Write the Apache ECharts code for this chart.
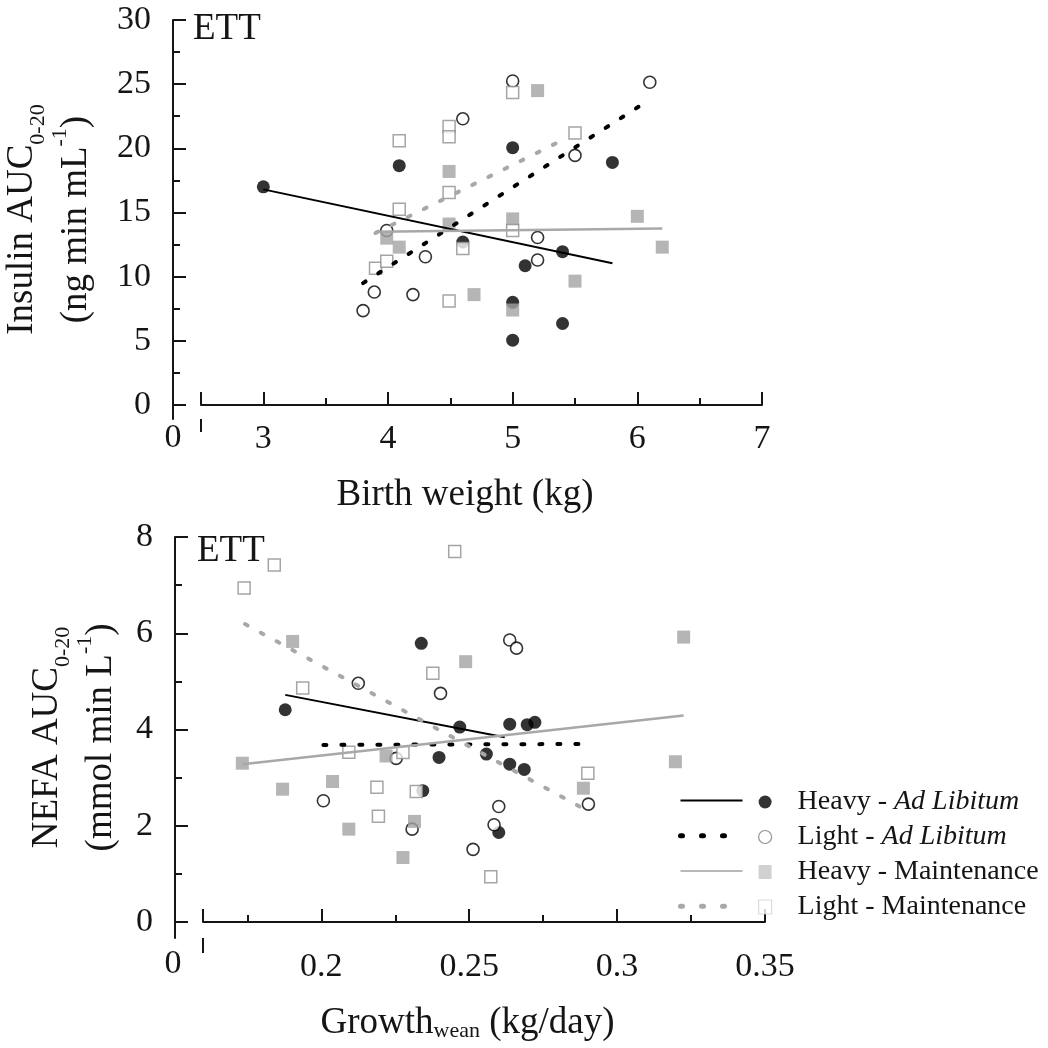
<!DOCTYPE html>
<html><head><meta charset="utf-8">
<script src="https://cdn.jsdelivr.net/npm/echarts@6/dist/echarts.min.js"></script>
<style>html,body{margin:0;padding:0;background:#fff}#c{width:1048px;height:1048px}</style>
</head><body><div id="c"></div>
<script>
// ---------- DATA ----------
const groupNames = ['Heavy - Ad Libitum', 'Light - Ad Libitum', 'Heavy - Maintenance', 'Light - Maintenance'];
const fitNames = ['Heavy - Ad Libitum fit', 'Light - Ad Libitum fit', 'Heavy - Maintenance fit', 'Light - Maintenance fit'];

// Top panel: Insulin AUC0-20 vs Birth weight (kg)
const insHeavyAL = [[3.0,17.0],[4.09,18.65],[5.0,20.05],[5.8,18.9],[4.6,12.7],[5.4,11.95],[5.1,10.85],[5.0,8.0],[5.4,6.35],[5.0,5.05]];
const insLightAL = [[3.8,7.35],[3.89,8.8],[4.2,8.6],[4.3,11.55],[3.99,13.6],[4.6,22.3],[5.0,25.25],[5.2,13.05],[5.2,11.3],[5.5,19.45],[6.1,25.15]];
const insHeavyM  = [[3.99,13.0],[4.09,12.3],[4.49,18.2],[4.49,14.1],[4.69,8.6],[5.0,14.5],[5.0,7.4],[5.2,24.5],[5.5,9.65],[6.0,14.7],[6.2,12.3]];
const insLightM  = [[3.9,10.65],[3.99,11.2],[4.09,15.25],[4.09,20.6],[4.49,21.7],[4.49,20.9],[4.49,16.55],[4.49,8.1],[4.6,12.2],[5.0,24.35],[5.0,13.6],[5.5,21.2]];
const insFitHeavyAL = [[3.0,16.8],[5.8,11.05]];
const insFitLightAL = [[3.8,9.5],[6.1,23.8]];
const insFitHeavyM  = [[3.9,13.5],[6.2,13.75]];
const insFitLightM  = [[3.9,13.4],[5.35,20.4]];

// Bottom panel: NEFA AUC0-20 vs Growth_wean (kg/day)
const nefaHeavyAL = [[0.1878,4.41],[0.2338,5.79],[0.2343,2.73],[0.2398,3.42],[0.2468,4.05],[0.2558,3.49],[0.2600,1.86],[0.2637,4.11],[0.2637,3.28],[0.2686,3.17],[0.2696,4.10],[0.2722,4.15]];
const nefaLightAL = [[0.2007,2.52],[0.2125,4.96],[0.2253,3.40],[0.2307,1.93],[0.2403,4.75],[0.2513,1.51],[0.2584,2.02],[0.2600,2.40],[0.2637,5.86],[0.2660,5.69],[0.2903,2.45]];
const nefaHeavyM  = [[0.1733,3.30],[0.1869,2.76],[0.1903,5.83],[0.2038,2.92],[0.2093,1.93],[0.2219,3.45],[0.2276,1.34],[0.2315,2.09],[0.2488,5.41],[0.2886,2.78],[0.3197,3.33],[0.3225,5.92]];
const nefaLightM  = [[0.1739,6.94],[0.1841,7.42],[0.1937,4.86],[0.2093,3.53],[0.2188,2.80],[0.2193,2.20],[0.2276,3.52],[0.2321,2.71],[0.2377,5.17],[0.2451,7.70],[0.2573,0.94],[0.2901,3.09]];
const nefaFitHeavyAL = [[0.1878,4.72],[0.262,3.84]];
const nefaFitLightAL = [[0.2007,3.68],[0.2903,3.70]];
const nefaFitHeavyM  = [[0.1733,3.28],[0.3225,4.29]];
const nefaFitLightM  = [[0.1742,6.19],[0.290,2.31]];

// Axis ticks / labels
const topXLabels = [3,4,5,6,7];
const topXMajorTicks = [2.5,3,4,5,6,7];
const topXMinorTicks = [3.5,4.5,5.5,6.5];
const topYLabels = [0,5,10,15,20,25,30];
const topYMinorTicks = [2.5,7.5,12.5,17.5,22.5,27.5];
const botXLabels = [0.2,0.25,0.3,0.35];
const botXMajorTicks = [0.16,0.2,0.25,0.3,0.35];
const botXMinorTicks = [0.175,0.225,0.275,0.325];
const botYLabels = [0,2,4,6,8];
const botYMinorTicks = [1,3,5,7];
const brokenAxisZeroLabel = '0';
const panelLabel = 'ETT';

// ---------- STYLE ----------
const FONT = 'Liberation Serif';
const INK = '#151515';
const GRAY = '#a3a3a3';
const LINEGRAY = '#a8a8a8';
const TICKFS = 34, TITLEFS = 37;

const markerStyles = [
  {symbol:'circle', symbolSize:13, itemStyle:{color:'#000', borderWidth:0}},
  {symbol:'circle', symbolSize:12, itemStyle:{color:'#fff', borderColor:'#000', borderWidth:1.6}},
  {symbol:'rect', symbolSize:13, itemStyle:{color:GRAY, borderWidth:0}},
  {symbol:'rect', symbolSize:12, itemStyle:{color:'#fff', borderColor:'#8e8e8e', borderWidth:1.5}}
];
const dotted = [3,15];
const fitStyles = [
  {color:'#000', width:2, type:'solid'},
  {color:'#000', width:4, type:dotted, cap:'round'},
  {color:LINEGRAY, width:2.5, type:'solid'},
  {color:LINEGRAY, width:4, type:dotted, cap:'round'}
];
const legendLineStyles = [
  {color:'#000', width:2, type:'solid'},
  {color:'#000', width:5, type:[2,19], cap:'round'},
  {color:'#b8b8b8', width:2, type:'solid'},
  {color:'#a8a8a8', width:5, type:[2,19], cap:'round'}
];

function mainX(grid, min, max, labels, minor, margin, name, gap, pad) {
  return {
    gridIndex: grid, type:'value', min, max, position:'bottom',
    axisLine:{show:true, onZero:true, lineStyle:{color:INK, width:2}},
    axisTick:{show:true, inside:true, length:7, customValues:minor, lineStyle:{color:INK, width:2}},
    axisLabel:{show:true, customValues:labels, margin, fontFamily:FONT, fontSize:TICKFS, color:INK},
    splitLine:{show:false},
    name, nameLocation:'middle', nameGap:gap, nameMoveOverlap:false,
    nameTextStyle:{fontFamily:FONT, fontSize:TITLEFS, color:INK, padding:pad,
      rich:{a:{fontFamily:FONT, fontSize:TITLEFS, color:INK},
            s:{fontFamily:FONT, fontSize:22, color:INK, verticalAlign:'bottom', lineHeight:20}}}
  };
}
function tickX(grid, min, max, ticks, len, inside) {
  return {
    gridIndex: grid, type:'value', min, max, position:'bottom',
    axisLine:{show:false, onZero:true},
    axisTick:{show:true, inside, length:len, customValues:ticks, lineStyle:{color:INK, width:2}},
    axisLabel:{show:false}, splitLine:{show:false}
  };
}
function mainY(grid, min, max, labels, minor, name, gap) {
  return {
    gridIndex: grid, type:'value', min, max, position:'left', offset:28,
    axisLine:{show:true, onZero:false, lineStyle:{color:INK, width:2}},
    axisTick:{show:true, inside:true, length:7, customValues:minor, lineStyle:{color:INK, width:2}},
    axisLabel:{show:true, customValues:labels, margin:22, fontFamily:FONT, fontSize:TICKFS, color:INK},
    splitLine:{show:false},
    name, nameLocation:'middle', nameRotate:90, nameGap:gap, nameMoveOverlap:false,
    nameTextStyle:{fontFamily:FONT, fontSize:TITLEFS, color:INK, lineHeight:54, align:'center',
      rich:{a:{fontFamily:FONT, fontSize:TITLEFS, color:INK},
            s:{fontFamily:FONT, fontSize:22, color:INK, verticalAlign:'bottom', lineHeight:28},
            p:{fontFamily:FONT, fontSize:22, color:INK, verticalAlign:'top', lineHeight:34}}}
  };
}
function tickY(grid, min, max, ticks) {
  return {
    gridIndex: grid, type:'value', min, max, position:'left', offset:28,
    axisLine:{show:false, onZero:false},
    axisTick:{show:true, inside:true, length:13, customValues:ticks, lineStyle:{color:INK, width:2}},
    axisLabel:{show:false}, splitLine:{show:false}
  };
}

const topSets = [insHeavyAL, insLightAL, insHeavyM, insLightM];
const topFits = [insFitHeavyAL, insFitLightAL, insFitHeavyM, insFitLightM];
const botSets = [nefaHeavyAL, nefaLightAL, nefaHeavyM, nefaLightM];
const botFits = [nefaFitHeavyAL, nefaFitLightAL, nefaFitHeavyM, nefaFitLightM];

const series = [];
function addPanel(sets, fits, xi, yi) {
  sets.forEach((d, i) => series.push(Object.assign({
    type:'scatter', name:groupNames[i], data:d, xAxisIndex:xi, yAxisIndex:yi, z:3, silent:true
  }, markerStyles[i])));
  fits.forEach((d, i) => series.push({
    type:'line', name:fitNames[i], data:d, xAxisIndex:xi, yAxisIndex:yi, z:4, silent:true,
    symbol:'none', showSymbol:false, lineStyle:fitStyles[i], itemStyle:{color:fitStyles[i].color}
  }));
}
addPanel(topSets, topFits, 0, 0);
addPanel(botSets, botFits, 3, 2);

const hidden = {color:'rgba(0,0,0,0)', borderColor:'rgba(0,0,0,0)', borderWidth:0, opacity:0};

const option = {
  animation:false,
  backgroundColor:'#fff',
  grid:[
    {left:201, top:20, width:561, height:399.1, outerBoundsMode:'none', containLabel:false},
    {left:203, top:537, width:562, height:400.9, outerBoundsMode:'none', containLabel:false}
  ],
  xAxis:[
    mainX(0, 2.5, 7, topXLabels, topXMinorTicks, 3, 'Birth weight (kg)', 58, [0,33,0,0]),
    tickX(0, 2.5, 7, topXMajorTicks, 13, true),
    tickX(0, 2.5, 7, [2.5], 13, false),
    mainX(1, 0.16, 0.35, botXLabels, botXMinorTicks, 12, '{a|Growth}{s|wean}{a| (kg/day)}', 67, [0,33,0,0]),
    tickX(1, 0.16, 0.35, botXMajorTicks, 13, true),
    tickX(1, 0.16, 0.35, [0.16], 15, false)
  ],
  yAxis:[
    mainY(0, -1.1, 30, topYLabels, topYMinorTicks, '{a|Insulin AUC}{s|0-20}\n{a|(ng min mL}{p|-1}{a|)}', 70),
    tickY(0, -1.1, 30, topYLabels),
    mainY(1, -0.33, 8, botYLabels, botYMinorTicks, '{a|NEFA AUC}{s|0-20}\n{a|(mmol min L}{p|-1}{a|)}', 47),
    tickY(1, -0.33, 8, botYLabels)
  ],
  legend:[
    {
      orient:'vertical', left:678, top:795, padding:0, itemGap:24, itemWidth:62, itemHeight:14,
      selectedMode:false, formatter:() => '',
      textStyle:{fontSize:10, lineHeight:14},
      data: fitNames.map((n, i) => ({name:n, lineStyle:legendLineStyles[i], itemStyle:hidden}))
    },
    {
      orient:'vertical', left:758, top:788, padding:0, itemGap:7, itemWidth:13, itemHeight:14,
      selectedMode:false,
      formatter: n => n.replace('Ad Libitum', '{i|Ad Libitum}'),
      textStyle:{fontFamily:FONT, fontSize:28, color:INK, lineHeight:14, padding:[0,0,0,21],
        rich:{i:{fontFamily:FONT, fontSize:28, color:INK, fontStyle:'italic', lineHeight:14}}},
      data:[
        {name:groupNames[0], itemStyle:{color:'#000', borderWidth:0}},
        {name:groupNames[1], itemStyle:{color:'#fff', borderColor:'#777', borderWidth:1.2}},
        {name:groupNames[2], itemStyle:{color:'#c6c6c6', borderWidth:0}},
        {name:groupNames[3], itemStyle:{color:'#fff', borderColor:'#d2d2d2', borderWidth:1.2}}
      ]
    }
  ],
  graphic:[
    {type:'text', x:173, y:421, silent:true, style:{text:brokenAxisZeroLabel, align:'center', verticalAlign:'top', fontFamily:FONT, fontSize:TICKFS, fill:INK}},
    {type:'text', x:173, y:947, silent:true, style:{text:brokenAxisZeroLabel, align:'center', verticalAlign:'top', fontFamily:FONT, fontSize:TICKFS, fill:INK}},
    {type:'text', x:193, y:11, silent:true, style:{text:panelLabel, align:'left', verticalAlign:'top', fontFamily:FONT, fontSize:TITLEFS, fill:INK}},
    {type:'text', x:197, y:533, silent:true, style:{text:panelLabel, align:'left', verticalAlign:'top', fontFamily:FONT, fontSize:TITLEFS, fill:INK}}
  ],
  series
};
const chart = echarts.init(document.getElementById('c'), null, {renderer:'canvas'});
chart.setOption(option);
</script></body></html>
